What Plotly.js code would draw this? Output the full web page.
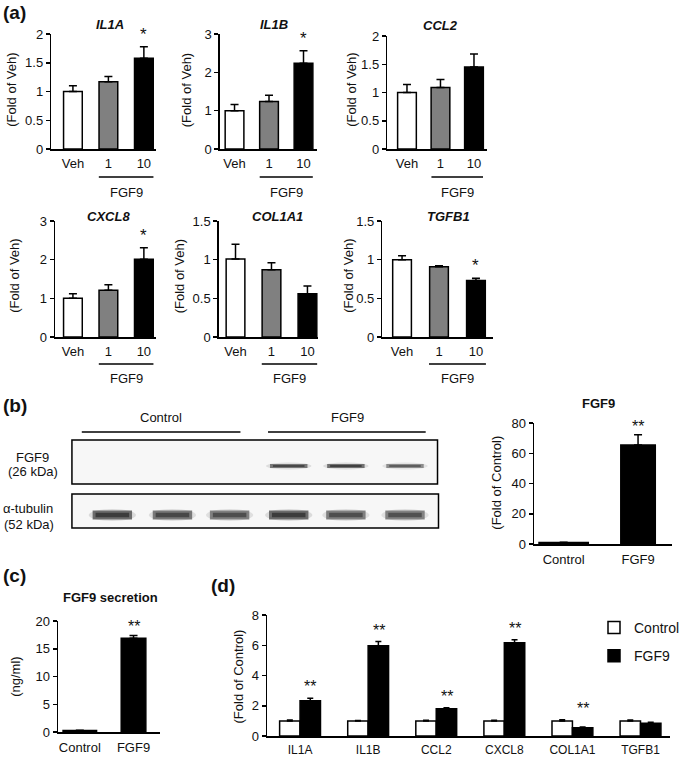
<!DOCTYPE html>
<html><head><meta charset="utf-8">
<script src="https://cdn.plot.ly/plotly-3.0.1.min.js"></script>
<style>html,body{margin:0;padding:0;background:#fff}</style>
</head><body>
<div id="chart" style="width:685px;height:759px"></div>
<script>
// ---------------- DATA ----------------
const doseLabels = ['Veh', '1', '10'];
const panelAGenes = ['IL1A', 'IL1B', 'CCL2', 'CXCL8', 'COL1A1', 'TGFB1'];
const il1aMean = [1.00, 1.17, 1.58];   const il1aErr = [0.10, 0.09, 0.20];
const il1bMean = [1.00, 1.24, 2.24];   const il1bErr = [0.16, 0.16, 0.32];
const ccl2Mean = [1.00, 1.09, 1.45];   const ccl2Err = [0.14, 0.14, 0.23];
const cxcl8Mean = [1.00, 1.21, 2.01];  const cxcl8Err = [0.12, 0.14, 0.30];
const col1a1Mean = [1.01, 0.87, 0.56]; const col1a1Err = [0.19, 0.09, 0.10];
const tgfb1Mean = [1.00, 0.91, 0.73];  const tgfb1Err = [0.05, 0.01, 0.03];
const il1aSig = ['', '', '*'];
const il1bSig = ['', '', '*'];
const ccl2Sig = ['', '', ''];
const cxcl8Sig = ['', '', '*'];
const col1a1Sig = ['', '', ''];
const tgfb1Sig = ['', '', '*'];
const panelAYMax = [2, 3, 2, 3, 1.5, 1.5];
const panelADtick = [0.5, 1, 0.5, 1, 0.5, 0.5];

const groupLabels = ['Control', 'FGF9'];
const fgf9ProteinMean = [1.0, 65.5];   const fgf9ProteinErr = [0.2, 6.8];
const fgf9ProteinSig = ['', '**'];
const secretionMean = [0.25, 16.9];    const secretionErr = [0.05, 0.5];
const secretionSig = ['', '**'];

const panelDGenes = ['IL1A', 'IL1B', 'CCL2', 'CXCL8', 'COL1A1', 'TGFB1'];
const controlMean = [1.00, 1.00, 1.00, 1.00, 1.00, 1.00];
const controlErr  = [0.05, 0.03, 0.04, 0.04, 0.08, 0.05];
const fgf9Mean    = [2.33, 5.97, 1.80, 6.16, 0.55, 0.85];
const fgf9Err     = [0.17, 0.27, 0.06, 0.20, 0.04, 0.06];
const panelDSig   = ['**', '**', '**', '**', '**', ''];

const blotLanes = ['Control', 'Control', 'Control', 'FGF9', 'FGF9', 'FGF9'];
const fgf9BandIntensity    = [0, 0, 0, 0.85, 0.9, 0.7];
const tubulinBandIntensity = [0.95, 0.85, 0.8, 0.95, 0.8, 0.78];

// ---------------- LAYOUT HELPERS ----------------
const W = 685, H = 759;
const fx = p => p / W;
const fy = p => 1 - p / H;
const FONT = 'Liberation Sans, Arial, sans-serif';
const INK = '#111';
const doseColors = ['#ffffff', '#808080', '#000000'];

const traces = [];
const annotations = [];
const shapes = [];
const layout = {
  width: W, height: H, margin: {l: 0, r: 0, t: 0, b: 0},
  paper_bgcolor: '#fff', plot_bgcolor: 'rgba(0,0,0,0)',
  font: {family: FONT, color: INK, size: 13},
  barmode: 'overlay', showlegend: true,
  legend: {x: fx(603), y: fy(612), xanchor: 'left', yanchor: 'top',
           font: {size: 14, family: FONT, color: INK}, bgcolor: 'rgba(0,0,0,0)',
           tracegroupgap: 7, itemwidth: 30},
  annotations, shapes
};

function axisPair(n, xd, yd, xrange, yrange, dtick, xtickFont, standoff) {
  const xs = n === 1 ? '' : String(n);
  layout['xaxis' + xs] = {
    domain: [fx(xd[0]), fx(xd[1])], range: xrange, anchor: 'y' + xs,
    type: 'category', showline: true, linecolor: '#000', linewidth: 1.5,
    ticks: '', showgrid: false, zeroline: false, fixedrange: true,
    tickfont: {size: xtickFont || 13, family: FONT, color: INK},
    ticklabelstandoff: standoff || 0
  };
  layout['yaxis' + xs] = {
    domain: [fy(yd[1]), fy(yd[0])], range: yrange, anchor: 'x' + xs,
    showline: true, linecolor: '#000', linewidth: 1.5,
    ticks: 'outside', ticklen: 4, tickwidth: 1.5, tickcolor: '#000',
    dtick: dtick, tick0: 0, showgrid: false, zeroline: false, fixedrange: true,
    tickfont: {size: 13, family: FONT, color: INK}
  };
  return {x: 'x' + xs, y: 'y' + xs};
}

function text(t, px, py, opts) {
  annotations.push(Object.assign({text: t, x: fx(px), y: fy(py), xref: 'paper', yref: 'paper',
    showarrow: false, xanchor: 'center', yanchor: 'middle',
    font: {size: 13, family: FONT, color: INK}}, opts || {}));
}

function stars(ax, cats, means, errs, sig, size, shift) {
  cats.forEach((c, i) => {
    if (!sig[i]) return;
    annotations.push({text: sig[i], xref: ax.x, yref: ax.y, x: i, y: means[i] + errs[i],
      showarrow: false, yanchor: 'bottom', yshift: shift === undefined ? 0 : shift,
      font: {size: size || 16, family: FONT, color: INK}});
  });
}

// ---------------- PANEL (a) ----------------
const aMeans = [il1aMean, il1bMean, ccl2Mean, cxcl8Mean, col1a1Mean, tgfb1Mean];
const aErrs = [il1aErr, il1bErr, ccl2Err, cxcl8Err, col1a1Err, tgfb1Err];
const aSigs = [il1aSig, il1bSig, ccl2Sig, cxcl8Sig, col1a1Sig, tgfb1Sig];
const geoA = [
  {x0: 52,  x1: 158, c0: 74,  s: 36,   yt: 34,  yb: 149, tx: 112, ytx: 12,  ul: 177, fl: 193, tty: 24,  yty: 90},
  {x0: 223, x1: 322, c0: 238, s: 35,   yt: 34,  yb: 149, tx: 278, ytx: 190, ul: 177, fl: 193, tty: 25,  yty: 90},
  {x0: 393, x1: 494, c0: 413, s: 34,   yt: 36,  yb: 149, tx: 447, ytx: 357, ul: 177, fl: 193, tty: 26,  yty: 90},
  {x0: 56,  x1: 158, c0: 74,  s: 36,   yt: 221, yb: 337, tx: 110, ytx: 14,  ul: 364, fl: 378, tty: 216, yty: 276},
  {x0: 222, x1: 323, c0: 239, s: 36.5, yt: 221, yb: 337, tx: 282, ytx: 182, ul: 364, fl: 378, tty: 216, yty: 276},
  {x0: 388, x1: 500, c0: 408, s: 37.5, yt: 221, yb: 337, tx: 455, ytx: 353, ul: 364, fl: 378, tty: 216, yty: 276}
];
panelAGenes.forEach((g, k) => {
  const G = geoA[k];
  const c2 = G.c0 + 2 * G.s;
  const ax = axisPair(k + 1, [G.x0, G.x1], [G.yt, G.yb],
    [-(G.c0 - G.x0) / G.s, 2 + (G.x1 - c2) / G.s], [0, panelAYMax[k]], panelADtick[k], 13, 2);
  traces.push({type: 'bar', x: doseLabels, y: aMeans[k], xaxis: ax.x, yaxis: ax.y,
    width: 19 / G.s, showlegend: false, hoverinfo: 'skip',
    marker: {color: doseColors, line: {color: '#000', width: 1.5}},
    error_y: {type: 'data', array: aErrs[k], arrayminus: [0, 0, 0], symmetric: false,
              color: '#000', thickness: 1.5, width: 4}});
  stars(ax, doseLabels, aMeans[k], aErrs[k], aSigs[k], 17, 1);
  text('<b><i>' + g + '</i></b>', G.tx, G.tty, {font: {size: 13, family: FONT, color: INK}});
  text('(Fold of Veh)', G.ytx, G.yty, {textangle: -90});
  shapes.push({type: 'line', xref: ax.x, yref: 'paper', x0: 0.73, x1: 2.27,
    y0: fy(G.ul), y1: fy(G.ul), line: {color: '#000', width: 1.5}});
  annotations.push({text: 'FGF9', xref: ax.x, yref: 'paper', x: 1.5, y: fy(G.fl),
    showarrow: false, yanchor: 'middle', font: {size: 13, family: FONT, color: INK}});
});

// ---------------- PANEL (b) blot ----------------
const laneCentres = [114, 175, 233, 293, 351, 411];
function blotBox(x0, x1, y0, y1) {
  shapes.push({type: 'rect', xref: 'paper', yref: 'paper', x0: fx(x0), x1: fx(x1), y0: fy(y1), y1: fy(y0),
    fillcolor: '#f7f7f7', line: {color: '#000', width: 1.5}, layer: 'below'});
}
function band(cx, cy, w, h, v) {
  if (v <= 0) return;
  shapes.push({type: 'circle', xref: 'paper', yref: 'paper', x0: fx(cx - w / 2 - 1), x1: fx(cx + w / 2 + 1),
    y0: fy(cy + h / 2 + 1.5), y1: fy(cy - h / 2 - 1.5), fillcolor: '#555', opacity: 0.18 * v, line: {width: 0}});
  shapes.push({type: 'rect', xref: 'paper', yref: 'paper', x0: fx(cx - w / 2 + 3), x1: fx(cx + w / 2 - 3),
    y0: fy(cy + h / 2), y1: fy(cy - h / 2), fillcolor: '#333', opacity: 0.7 * v, line: {width: 0}});
  shapes.push({type: 'rect', xref: 'paper', yref: 'paper', x0: fx(cx - w / 2 + 6), x1: fx(cx + w / 2 - 6),
    y0: fy(cy + h / 4), y1: fy(cy - h / 4), fillcolor: '#111', opacity: 0.55 * v, line: {width: 0}});
}
blotBox(73, 444, 440, 484);
blotBox(73, 445, 494, 528);
blotLanes.forEach((lane, i) => {
  band(laneCentres[i], 466, 44, 4, fgf9BandIntensity[i]);
  band(laneCentres[i], 515, 46, 9, tubulinBandIntensity[i]);
});
shapes.push({type: 'line', xref: 'paper', yref: 'paper', x0: fx(83), x1: fx(244), y0: fy(432), y1: fy(432), line: {color: '#000', width: 1.5}});
shapes.push({type: 'line', xref: 'paper', yref: 'paper', x0: fx(272), x1: fx(432), y0: fy(432), y1: fy(432), line: {color: '#000', width: 1.5}});
text(groupLabels[0], 163, 417);
text(groupLabels[1], 353, 417);
text('FGF9', 33, 457);
text('(26 kDa)', 33, 471);
text('α-tubulin', 28, 508);
text('(52 kDa)', 29, 524);

// ---------------- PANEL (b) quantification ----------------
{
  const c0 = 572, s = 75.5, x0 = 542, x1 = 682;
  const ax = axisPair(7, [x0, x1], [423, 544], [-(c0 - x0) / s, 1 + (x1 - c0 - s) / s], [0, 80], 20, 13, 3);
  traces.push({type: 'bar', x: groupLabels, y: fgf9ProteinMean, xaxis: ax.x, yaxis: ax.y,
    width: [50 / s, 35 / s], showlegend: false, hoverinfo: 'skip',
    marker: {color: '#000', line: {color: '#000', width: 1.5}},
    error_y: {type: 'data', array: fgf9ProteinErr, arrayminus: [0, 0], symmetric: false,
              color: '#000', thickness: 1.5, width: 4}});
  stars(ax, groupLabels, fgf9ProteinMean, fgf9ProteinErr, fgf9ProteinSig, 16, -2);
  text('<b>FGF9</b>', 607, 404);
  text('(Fold of Control)', 503, 483, {textangle: -90});
}

// ---------------- PANEL (c) ----------------
{
  const c0 = 81, s = 54.5, x0 = 59, x1 = 162;
  const ax = axisPair(8, [x0, x1], [621, 732], [-(c0 - x0) / s, 1 + (x1 - c0 - s) / s], [0, 20], 5, 13, 3);
  traces.push({type: 'bar', x: groupLabels, y: secretionMean, xaxis: ax.x, yaxis: ax.y,
    width: [34 / s, 25 / s], showlegend: false, hoverinfo: 'skip',
    marker: {color: '#000', line: {color: '#000', width: 1.5}},
    error_y: {type: 'data', array: secretionErr, arrayminus: [0, 0], symmetric: false,
              color: '#000', thickness: 1.5, width: 4}});
  stars(ax, groupLabels, secretionMean, secretionErr, secretionSig, 16, -2);
  text('<b>FGF9 secretion</b>', 112, 597);
  text('(ng/ml)', 15, 677, {textangle: -90});
}

// ---------------- PANEL (d) ----------------
{
  const c0 = 304.5, s = 69.1, x0 = 271, x1 = 680;
  const ax = axisPair(9, [x0, x1], [615, 736], [-(c0 - x0) / s, 5 + (x1 - c0 - 5 * s) / s], [0, 8], 2, 12, 2);
  traces.push({type: 'bar', name: 'Control', x: panelDGenes, y: controlMean, xaxis: ax.x, yaxis: ax.y,
    offset: -0.3, width: 0.3, legendgroup: 'c', hoverinfo: 'skip',
    marker: {color: '#fff', line: {color: '#000', width: 1.5}},
    error_y: {type: 'data', array: controlErr, arrayminus: controlErr.map(() => 0), symmetric: false,
              color: '#000', thickness: 1.5, width: 3}});
  traces.push({type: 'bar', name: 'FGF9', x: panelDGenes, y: fgf9Mean, xaxis: ax.x, yaxis: ax.y,
    offset: 0, width: 0.3, legendgroup: 'f', hoverinfo: 'skip',
    marker: {color: '#000', line: {color: '#000', width: 1.5}},
    error_y: {type: 'data', array: fgf9Err, arrayminus: fgf9Err.map(() => 0), symmetric: false,
              color: '#000', thickness: 1.5, width: 3}});
  panelDGenes.forEach((g, i) => {
    if (!panelDSig[i]) return;
    annotations.push({text: panelDSig[i], xref: ax.x, yref: ax.y, x: i, xshift: 0.15 * s,
      y: Math.max(fgf9Mean[i] + fgf9Err[i], controlMean[i] + controlErr[i]),
      showarrow: false, yanchor: 'bottom', yshift: 1, font: {size: 16, family: FONT, color: INK}});
  });
  text('(Fold of Control)', 242, 676, {textangle: -90});
}

// ---------------- panel letters ----------------
const letterFont = {size: 19, family: FONT, color: INK};
text('<b>(a)</b>', 1, 12, {xanchor: 'left', font: letterFont});
text('<b>(b)</b>', 1, 405, {xanchor: 'left', font: letterFont});
text('<b>(c)</b>', 1, 575, {xanchor: 'left', font: letterFont});
text('<b>(d)</b>', 212, 585, {xanchor: 'left', font: letterFont});

Plotly.newPlot('chart', traces, layout, {staticPlot: true, displayModeBar: false});
</script>
</body></html>
